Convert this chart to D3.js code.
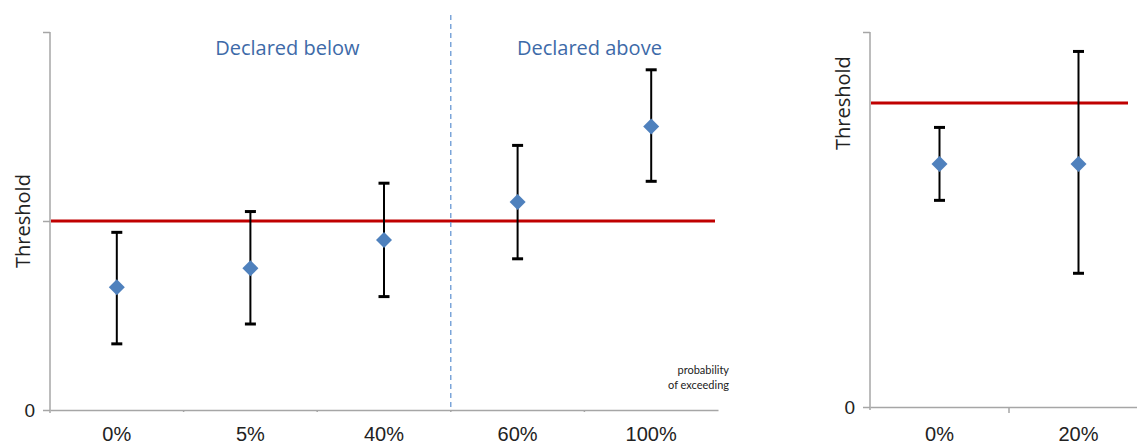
<!DOCTYPE html>
<html>
<head>
<meta charset="utf-8">
<script src="https://cdn.jsdelivr.net/npm/d3@7"></script>
<style>
  html, body { margin: 0; padding: 0; background: #fff; }
  svg { display: block; font-family: "Open Sans", Lato, sans-serif; }
</style>
</head>
<body>
<svg id="chart" width="1137" height="444"></svg>
<script>
// ---- data ----
const leftCategories = ["0%", "5%", "40%", "60%", "100%"];
const leftValues = [0.65, 0.75, 0.90, 1.10, 1.50];
const leftLower  = [0.35, 0.455, 0.60, 0.80, 1.21];
const leftUpper  = [0.94, 1.05, 1.20, 1.40, 1.80];

const rightCategories = ["0%", "20%"];
const rightValues = [0.80, 0.80];
const rightLower  = [0.68, 0.44];
const rightUpper  = [0.92, 1.17];

const threshold = 1;
const leftTicks = [0, 1, 2];
const rightTicks = [0, 1.234];
const groupLabels = ["Declared below", "Declared above"];
const noteLines = ["probability", "of exceeding"];

// ---- styles ----
const axisColor = "#a6a6a6";
const red = "#c00000";
const blue = "#4f81bd";
const textBlue = "#3d6aa8";

const svg = d3.select("#chart");

function panel(opts) {
  const { categories, values, lower, upper, xRange, yRange, yMax, ticks } = opts;
  const x = d3.scaleBand().domain(categories).range(xRange).padding(0);
  const y = d3.scaleLinear().domain([0, yMax]).range(yRange);
  const g = svg.append("g");

  // y axis
  const ya = g.append("g").attr("transform", `translate(${xRange[0]},0)`)
    .call(d3.axisLeft(y).tickValues(ticks).tickSize(7).tickSizeOuter(0)
      .tickFormat(d => d === 0 ? "0" : ""));
  ya.select(".domain").attr("stroke", axisColor).attr("stroke-width", 1.5)
    .attr("d", `M0,${yRange[1]}V${yRange[0] + 3}`);
  ya.selectAll(".tick line").attr("stroke", axisColor).attr("stroke-width", 1.5);
  ya.selectAll(".tick text").attr("font-size", 19).attr("fill", "#222").attr("x", -15);

  // x axis
  const xa = g.append("g").attr("transform", `translate(0,${yRange[0]})`)
    .call(d3.axisBottom(x).tickSize(0).tickSizeOuter(0).tickFormat(d => d));
  xa.select(".domain").attr("stroke", axisColor).attr("stroke-width", 1.5);
  xa.selectAll(".tick text").attr("font-size", 20).attr("fill", "#222")
    .attr("dy", null).attr("y", 441 - yRange[0]);
  // boundary tick marks
  xa.selectAll(".btick").data(categories.slice(1)).enter().append("line")
    .attr("class", "btick")
    .attr("x1", d => x(d)).attr("x2", d => x(d))
    .attr("y1", 0).attr("y2", opts.btickLen)
    .attr("stroke", axisColor).attr("stroke-width", 1.5);

  // threshold line
  g.append("line")
    .attr("x1", xRange[0] + 1).attr("x2", opts.redEnd)
    .attr("y1", y(threshold)).attr("y2", y(threshold))
    .attr("stroke", red).attr("stroke-width", 3);

  // error bars
  const idx = d3.range(categories.length);
  const cx = i => x(categories[i]) + x.bandwidth() / 2;
  const eb = g.append("g");
  eb.selectAll(".stem").data(idx).enter().append("line")
    .attr("x1", cx).attr("x2", cx)
    .attr("y1", i => y(upper[i])).attr("y2", i => y(lower[i]))
    .attr("stroke", "#000").attr("stroke-width", 2);
  eb.selectAll(".capT").data(idx).enter().append("line")
    .attr("x1", i => cx(i) - 5.5).attr("x2", i => cx(i) + 5.5)
    .attr("y1", i => y(upper[i])).attr("y2", i => y(upper[i]))
    .attr("stroke", "#000").attr("stroke-width", 3);
  eb.selectAll(".capB").data(idx).enter().append("line")
    .attr("x1", i => cx(i) - 5.5).attr("x2", i => cx(i) + 5.5)
    .attr("y1", i => y(lower[i])).attr("y2", i => y(lower[i]))
    .attr("stroke", "#000").attr("stroke-width", 3);

  // diamonds
  const r = 8;
  g.selectAll(".pt").data(idx).enter().append("path")
    .attr("d", `M0,${-r}L${r},0L0,${r}L${-r},0Z`)
    .attr("transform", i => `translate(${cx(i)},${y(values[i])})`)
    .attr("fill", blue);

  // y title
  g.append("text")
    .attr("transform", `translate(${opts.titleX},${y(threshold)}) rotate(-90)`)
    .attr("text-anchor", "middle").attr("dominant-baseline", "central")
    .attr("font-size", 20).attr("fill", "#222")
    .text("Threshold");

  return { x, y, g };
}

const L = panel({
  categories: leftCategories, values: leftValues, lower: leftLower, upper: leftUpper,
  xRange: [50, 718], yRange: [410, 32], yMax: 2, ticks: leftTicks,
  redEnd: 715, titleX: 22, btickLen: 2
});

const R = panel({
  categories: rightCategories, values: rightValues, lower: rightLower, upper: rightUpper,
  xRange: [870, 1148], yRange: [407, 32], yMax: rightTicks[1], ticks: rightTicks,
  redEnd: 1128, titleX: 842, btickLen: 6
});

// divider between below/above
const divX = L.x(leftCategories[3]);
L.g.append("line")
  .attr("x1", divX).attr("x2", divX)
  .attr("y1", 15).attr("y2", L.y(0))
  .attr("stroke", "#5b8fd0").attr("stroke-width", 1.2)
  .attr("stroke-dasharray", "5,4");

// group labels
const leftMid = (L.x(leftCategories[0]) + divX) / 2;
const rightMid = (divX + L.x(leftCategories[4]) + L.x.bandwidth()) / 2;
L.g.selectAll(".grp").data(groupLabels).enter().append("text")
  .attr("x", (d, i) => i === 0 ? leftMid + 37 : rightMid + 5)
  .attr("y", 55)
  .attr("text-anchor", "middle")
  .attr("font-size", 20).attr("fill", textBlue)
  .text(d => d);

// note
L.g.selectAll(".note").data(noteLines).enter().append("text")
  .attr("x", 729).attr("y", (d, i) => 374 + i * 15)
  .attr("text-anchor", "end")
  .attr("font-family", "Lato, sans-serif")
  .attr("font-size", 11).attr("fill", "#222")
  .text(d => d);
</script>
</body>
</html>
